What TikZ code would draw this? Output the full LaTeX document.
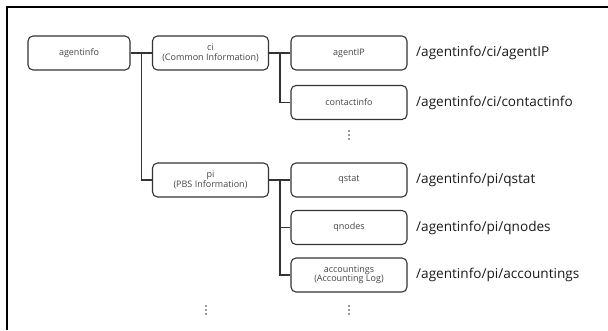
\documentclass[tikz,border=0pt]{standalone}
\usepackage{fontspec}
\setmainfont{Open Sans}
\usetikzlibrary{calc}
\definecolor{edge}{HTML}{333333}
\definecolor{boxtext}{HTML}{444444}
\definecolor{pathtext}{HTML}{1A1A1A}
\tikzset{
  keybox/.style={draw=edge, line width=1.1pt, rounded corners=5pt,
    minimum height=34pt, inner sep=0pt, align=center,
    font=\fontsize{9}{9.5}\selectfont, text=boxtext},
  leftbox/.style={keybox, minimum width=102pt},
  midbox/.style={keybox, minimum width=116pt},
  rightbox/.style={keybox, minimum width=116pt},
  link/.style={draw=edge, line width=1.5pt},
  pathlabel/.style={anchor=west, inner sep=0pt, text=pathtext,
    font=\fontsize{13.6}{15}\selectfont},
  vdots/.pic={\fill[edge] (0,-4) circle (0.8pt) (0,0) circle (0.8pt) (0,4) circle (0.8pt);}
}
\begin{document}
\begin{tikzpicture}[x=1pt,y=-1pt]
\useasboundingbox (0,0) rectangle (608,330);
% frame
\draw[black, line width=2pt] (608,7) -- (7,7) -- (7,330);

% tree nodes
\node[leftbox] (agentinfo) at (79,53) {agentinfo};
\node[midbox] (ci) at (210.5,53) {ci\\(Common Information)};
\node[midbox] (pi) at (210.5,180) {pi\\(PBS Information)};
\node[rightbox] (agentIP) at (349,53) {agentIP};
\node[rightbox] (contactinfo) at (349,102.5) {contactinfo};
\node[rightbox] (qstat) at (349,180) {qstat};
\node[rightbox] (qnodes) at (349,227.5) {qnodes};
\node[rightbox] (accountings) at (349,275) {accountings\\(Accounting Log)};

% connectors
\draw[link] (agentinfo.east) -- (ci.west);
\coordinate (j0) at ($(agentinfo.east)!0.5!(ci.west)$);
\draw[link] (j0) |- (pi.west);
\draw[link] (ci.east) -- (agentIP.west);
\coordinate (j1) at ($(ci.east)!0.5!(agentIP.west)$);
\draw[link] (j1) |- (contactinfo.west);
\draw[link] (pi.east) -- (qstat.west);
\coordinate (j2) at ($(pi.east)!0.5!(qstat.west)$);
\draw[link] (j2) |- (qnodes.west);
\draw[link] (j2) |- (accountings.west);

% continuation marks
\pic at (349,135) {vdots};
\pic at (206,310) {vdots};
\pic at (349,310) {vdots};

% paths
\node[pathlabel] (pAgentIP) at (416,53) {/agentinfo/ci/agentIP};
\node[pathlabel] (pContact) at (416,102.5) {/agentinfo/ci/contactinfo};
\node[pathlabel] (pQstat) at (416,180) {/agentinfo/pi/qstat};
\node[pathlabel] (pQnodes) at (416,227.5) {/agentinfo/pi/qnodes};
\node[pathlabel] (pAcct) at (416,275) {/agentinfo/pi/accountings};
\end{tikzpicture}
\end{document}
